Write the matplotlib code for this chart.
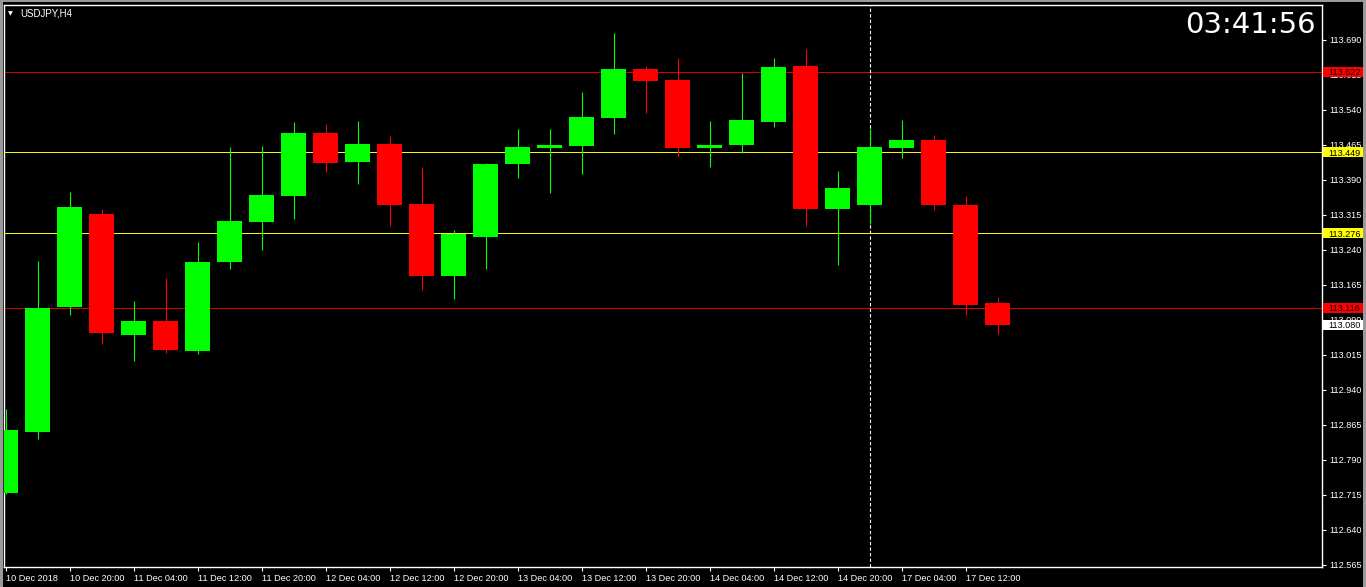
import matplotlib
matplotlib.use('Agg')
import matplotlib.pyplot as plt
import matplotlib.transforms as mtransforms
from matplotlib.patches import Rectangle
import numpy as np

# USDJPY H4 candles
opens = [112.720, 112.851, 113.118, 113.317, 113.058, 113.088, 113.024, 113.214,
         113.300, 113.356, 113.491, 113.429, 113.467, 113.339, 113.184, 113.268,
         113.424, 113.459, 113.463, 113.523, 113.628, 113.604, 113.459, 113.465,
         113.514, 113.634, 113.328, 113.336, 113.459, 113.476, 113.336, 113.126]
highs = [112.899, 113.216, 113.364, 113.328, 113.131, 113.180, 113.257, 113.461,
         113.463, 113.514, 113.510, 113.516, 113.484, 113.418, 113.283, 113.426,
         113.499, 113.499, 113.579, 113.705, 113.634, 113.651, 113.516, 113.619,
         113.651, 113.671, 113.409, 113.499, 113.519, 113.486, 113.356, 113.139]
lows = [112.718, 112.834, 113.101, 113.039, 113.002, 113.019, 113.017, 113.199,
        113.240, 113.306, 113.407, 113.381, 113.291, 113.154, 113.135, 113.199,
        113.394, 113.362, 113.403, 113.489, 113.534, 113.439, 113.418, 113.448,
        113.504, 113.291, 113.208, 113.296, 113.437, 113.326, 113.101, 113.060]
closes = [112.854, 113.116, 113.332, 113.062, 113.088, 113.026, 113.214, 113.302,
          113.358, 113.491, 113.426, 113.467, 113.336, 113.184, 113.274, 113.424,
          113.461, 113.465, 113.525, 113.628, 113.602, 113.459, 113.465, 113.519,
          113.632, 113.328, 113.373, 113.461, 113.476, 113.336, 113.122, 113.080]

date_ticks = list(range(0, 32, 2))
date_labels = ['10 Dec 2018', '10 Dec 20:00', '11 Dec 04:00', '11 Dec 12:00',
               '11 Dec 20:00', '12 Dec 04:00', '12 Dec 12:00', '12 Dec 20:00',
               '13 Dec 04:00', '13 Dec 12:00', '13 Dec 20:00', '14 Dec 04:00',
               '14 Dec 12:00', '14 Dec 20:00', '17 Dec 04:00', '17 Dec 12:00']

price_ticks = [112.565 + 0.075 * k for k in range(16)]

levels = [113.622, 113.449, 113.276, 113.116]
level_colors = ['#e00000', '#ffff00', '#ffff00', '#e00000']
tags = [113.622, 113.449, 113.276, 113.116, 113.080]
tag_colors = ['#ff0000', '#ffff00', '#ffff00', '#ff0000', '#ffffff']
separator_bar = 27

W, H = 1366, 587
fig = plt.figure(figsize=(W / 100, H / 100), dpi=100, facecolor='black')
ax = fig.add_axes([4 / W, (H - 567) / H, 1318 / W, 562 / H])
ax.set_facecolor('black')

opens = np.array(opens)
closes = np.array(closes)
x = np.arange(len(opens))
cols = np.where(closes >= opens, '#00ff00', '#ff0000')

ax.vlines(x, lows, highs, colors=cols, lw=0.8, zorder=2)
ax.bar(x, np.abs(closes - opens), bottom=np.minimum(opens, closes),
       width=0.78, color=cols, linewidth=0, zorder=3)

for lv, c in zip(levels, level_colors):
    ax.axhline(lv, color=c, lw=0.7, zorder=1)
ax.axvline(separator_bar, color='white', lw=0.8, ls=(0, (3, 2)), zorder=1)

ax.set_xlim(-0.047, 41.14)
ax.set_ylim(112.5607, 113.765)

for s in ax.spines.values():
    s.set_color('white')
    s.set_linewidth(1.0)

lab_font = 'Liberation Sans'
ax.yaxis.tick_right()
ax.set_yticks(price_ticks)
ax.set_yticklabels(['%.3f' % p for p in price_ticks], fontsize=6.6, family=lab_font)
ax.set_xticks(date_ticks)
ax.set_xticklabels(date_labels, fontsize=6.6, family=lab_font, ha='left')
ax.tick_params(axis='both', colors='white', length=3, width=0.8, direction='out')
ax.tick_params(axis='y', pad=2)
ax.tick_params(axis='x', pad=2)

# price tags on the right scale
trans = mtransforms.blended_transform_factory(ax.transAxes, ax.transData)
h = 10 / 466.67
for p, c in zip(tags, tag_colors):
    ax.add_patch(Rectangle((1.0008, p - h / 2), 40 / 1318, h, transform=trans,
                           facecolor=c, edgecolor='none', clip_on=False, zorder=5))
    ax.text(1.0046, p, '%.3f' % p, transform=trans, color='black', fontsize=6.6,
            family=lab_font, va='center_baseline', ha='left', clip_on=False, zorder=6)

fig.text(8 / W, 1 - 14 / H, '\u25bc', color='white', fontsize=4.5, va='center')
fig.text(20 / W, 1 - 14 / H, 'USDJPY,H4', color='white', fontsize=7,
         family=lab_font, va='center')
fig.text(1316 / W, 1 - 25 / H, '03:41:56', color='white', fontsize=21,
         family='DejaVu Sans', ha='right', va='center')

# window edges
fig.patches.append(Rectangle((0, 0), 3 / W, 1, transform=fig.transFigure,
                             facecolor='#9a9a9a', edgecolor='none'))
fig.patches.append(Rectangle((0, 1 - 2 / H), 1, 2 / H, transform=fig.transFigure,
                             facecolor='#9a9a9a', edgecolor='none'))
fig.patches.append(Rectangle((1 - 3 / W, 0), 3 / W, 1, transform=fig.transFigure,
                             facecolor='#9a9a9a', edgecolor='none'))

fig.savefig('out.png', dpi=100, facecolor='black')
